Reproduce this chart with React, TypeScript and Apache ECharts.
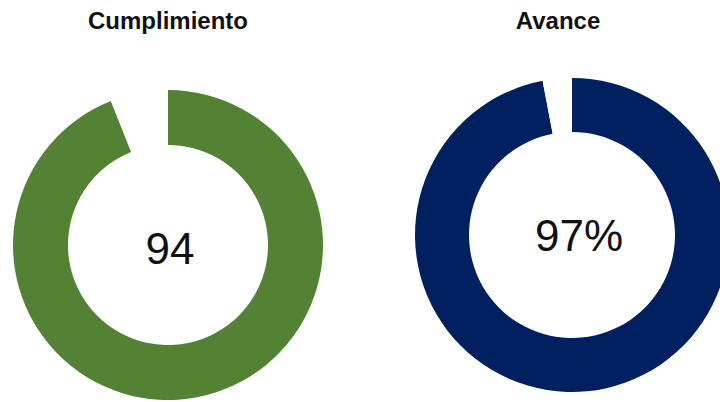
import React, { useEffect, useRef } from "react";
import * as echarts from "echarts";

const titles = ["Cumplimiento", "Avance"];
const values = [94, 97];
const totals = [100, 100];
const suffixes = ["", "%"];
const colors = ["#548235", "#002060"];

export default function App() {
  const ref = useRef<HTMLDivElement>(null);
  useEffect(() => {
    if (!ref.current) return;
    const chart = echarts.init(ref.current, undefined, { renderer: "svg" });
    const centers: [number, number][] = [
      [168, 245],
      [572, 235],
    ];
    const radii: [number, number][] = [
      [100, 155],
      [103, 157],
    ];
    const labelOffsets: [number, number][] = [
      [2, 3],
      [7, 0],
    ];
    const titleCenters = [163, 553];
    chart.setOption({
      animation: false,
      backgroundColor: "#ffffff",
      title: titles.map((t, i) => ({
        text: t,
        left: titleCenters[i],
        top: 3,
        textAlign: "center",
        textStyle: {
          fontFamily: "Liberation Sans, Arial, sans-serif",
          fontWeight: "bold",
          fontSize: 24,
          color: "#111111",
        },
      })),
      series: values.map((v, i) => ({
        type: "pie",
        center: centers[i],
        radius: radii[i],
        startAngle: 90,
        clockwise: true,
        silent: true,
        emphasis: { disabled: true },
        labelLine: { show: false },
        data: [
          {
            value: v,
            name: titles[i],
            itemStyle: { color: colors[i] },
            label: {
              show: true,
              position: "center",
              formatter: "{c}" + suffixes[i],
              fontFamily: "Liberation Sans, Arial, sans-serif",
              fontSize: 44,
              color: "#111111",
              offset: labelOffsets[i],
            },
          },
          {
            value: totals[i] - v,
            name: "resto",
            itemStyle: { color: "#ffffff" },
            label: { show: false },
          },
        ],
      })),
    });
    return () => chart.dispose();
  }, []);
  return (
    <div
      ref={ref}
      style={{ position: "fixed", left: 0, top: 0, width: 720, height: 402 }}
    />
  );
}
